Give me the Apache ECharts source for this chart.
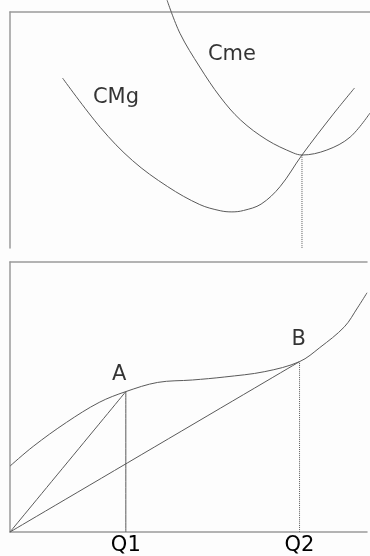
<!DOCTYPE html>
<html>
<head>
<meta charset="utf-8">
<script src="https://cdn.jsdelivr.net/npm/echarts@6/dist/echarts.min.js"></script>
<style>
    html, body { margin: 0; padding: 0; background: #fdfdfd; }
    #main { width: 370px; height: 556px; }
</style>
</head>
<body>
<div id="main"></div>
<script>
// 数量 Q
var qMarks = [4, 10];
var qLabels = ['Q1', 'Q2'];

// 上图：CMg 和 Cme
var cmgQ = [1.8, 3.1, 4.2, 5.4, 6.5, 7.2, 7.6, 8.0, 8.6, 9.25, 10, 11.05, 11.8];
var cmgVal = [72, 51, 37, 26, 18.4, 15.8, 15.3, 15.9, 18.6, 26, 39.4, 56.4, 67.8];
var cmeQ = [5.38, 5.82, 6.5, 7.2, 7.9, 8.8, 9.7, 10, 10.85, 11.65, 12.33];
var cmeVal = [105, 91, 76.7, 64, 54.2, 45.8, 40.3, 39.4, 41.5, 47, 57.2];

// 下图：CT
var ctQ = [0, 0.8, 1.95, 3.08, 4, 5.1, 6.3, 7.4, 8.8, 10, 10.7, 11.55, 12, 12.33];
var ctVal = [24.4, 31.7, 40.6, 48, 52, 55.4, 56.3, 57.4, 59.4, 63.1, 68.3, 76, 83, 88.6];

// 文字标注
var topLabels = [['Cme', 7.6, 81.8], ['CMg', 3.63, 63.6]];
var botLabels = [['CT', 12.5, 91.1], ['A', 3.77, 58.3], ['B', 9.97, 71.2]];

function pairs(xs, ys) {
    return xs.map(function (x, i) { return [x, ys[i]]; });
}
// 在某条曲线上取 Q 对应的值
function valueAt(xs, ys, q) {
    var idx = xs.indexOf(q);
    return ys[idx];
}

var costA = valueAt(ctQ, ctVal, qMarks[0]);
var costB = valueAt(ctQ, ctVal, qMarks[1]);
var cmeMin = valueAt(cmeQ, cmeVal, qMarks[1]);

var lineColor = '#5a5a5a';
var frameColor = '#9a9a9a';
var font = 'DejaVu Sans';

function labelSeries(list, gridIdx) {
    return {
        type: 'scatter',
        xAxisIndex: gridIdx,
        yAxisIndex: gridIdx,
        symbolSize: 0,
        silent: true,
        data: list.map(function (l) { return {name: l[0], value: [l[1], l[2]]}; }),
        label: {
            show: true,
            position: 'inside',
            formatter: '{b}',
            color: '#000',
            fontFamily: font,
            fontSize: 21
        }
    };
}

function curve(data, gridIdx, type) {
    return {
        type: 'line',
        xAxisIndex: gridIdx,
        yAxisIndex: gridIdx,
        data: data,
        smooth: 0.35,
        symbol: 'none',
        clip: false,
        silent: true,
        lineStyle: {color: lineColor, width: 1, type: type || 'solid'}
    };
}

// 只画边框线的坐标轴
function frameAxis(gridIdx, pos) {
    return {
        gridIndex: gridIdx, type: 'value', min: 0, max: 12.33, position: pos,
        axisLine: {show: true, onZero: false, lineStyle: {color: frameColor, width: 1.5}},
        axisTick: {show: false}, axisLabel: {show: false}, splitLine: {show: false}
    };
}

var option = {
    backgroundColor: '#fdfdfd',
    animation: false,
    grid: [
        {left: 10, top: 12, right: 0, height: 236},
        {left: 10, top: 262, right: 0, bottom: 23}
    ],
    xAxis: [
        frameAxis(0, 'top'),
        {
            gridIndex: 1, type: 'value', min: 0, max: 12.33, interval: 2,
            axisLine: {show: true, onZero: false, lineStyle: {color: frameColor, width: 1.5}},
            axisTick: {show: false},
            axisLabel: {
                margin: 3,
                color: '#000',
                fontFamily: font,
                fontSize: 21,
                formatter: function (v) {
                    var i = qMarks.indexOf(v);
                    return i >= 0 ? qLabels[i] : '';
                }
            },
            splitLine: {show: false}
        },
        frameAxis(1, 'top')
    ],
    yAxis: [
        {
            gridIndex: 0, type: 'value', min: 0, max: 100,
            axisLine: {show: true, onZero: false, lineStyle: {color: frameColor, width: 1.5}},
            axisTick: {show: false}, axisLabel: {show: false}, splitLine: {show: false}
        },
        {
            gridIndex: 1, type: 'value', min: 0, max: 100,
            axisLine: {show: true, onZero: false, lineStyle: {color: frameColor, width: 1.5}},
            axisTick: {show: false}, axisLabel: {show: false}, splitLine: {show: false}
        }
    ],
    series: [
        curve(pairs(cmgQ, cmgVal), 0),
        curve(pairs(cmeQ, cmeVal), 0),
        curve([[qMarks[1], 0], [qMarks[1], cmeMin]], 0, 'dotted'),
        labelSeries(topLabels, 0),

        curve(pairs(ctQ, ctVal), 1),
        curve([[0, 0], [qMarks[0], costA]], 1),
        curve([[0, 0], [qMarks[1], costB]], 1),
        curve([[qMarks[0], 0], [qMarks[0], costA]], 1),
        curve([[qMarks[1], 0], [qMarks[1], costB]], 1, 'dotted'),
        labelSeries(botLabels, 1)
    ]
};

var chart = echarts.init(document.getElementById('main'));
chart.setOption(option);
</script>
</body>
</html>
